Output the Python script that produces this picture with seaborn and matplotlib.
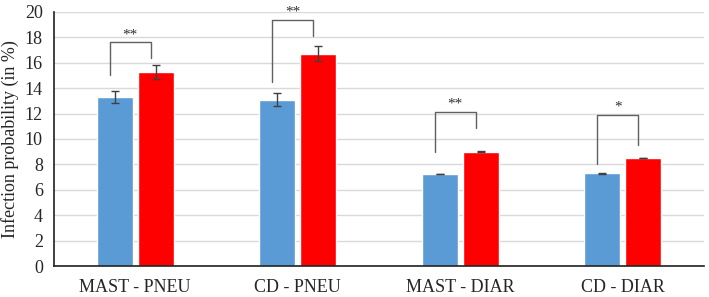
import pandas as pd
import numpy as np
import matplotlib.pyplot as plt
import seaborn as sns

# data
categories = ["MAST - PNEU", "CD - PNEU", "MAST - DIAR", "CD - DIAR"]
groups = ["A", "B"]
values_a = [13.3, 13.1, 7.24, 7.3]
values_b = [15.25, 16.7, 9.0, 8.5]
err_a = [0.5, 0.5, 0.03, 0.03]
err_b = [0.55, 0.6, 0.03, 0.03]

# significance brackets: left leg bottom, top, right leg bottom, label
br_left = [15.0, 14.5, 9.0, 8.0]
br_top = [17.6, 19.4, 12.1, 11.9]
br_right = [16.4, 18.1, 10.9, 9.5]
br_label = ["**", "**", "**", "*"]

df = pd.DataFrame({
    "category": categories * 2,
    "group": [groups[0]] * 4 + [groups[1]] * 4,
    "value": values_a + values_b,
})

sns.set_style("white")
plt.rcParams["font.family"] = ["Liberation Serif", "DejaVu Serif"]

fig = plt.figure(figsize=(7.09, 2.97), dpi=100)
ax = fig.add_axes([0.076, 0.104, 0.917, 0.856])

sns.barplot(data=df, x="category", y="value", hue="group",
            palette=["#5B9BD5", "#FF0000"], saturation=1,
            width=0.505, gap=0.12,
            errorbar=None, legend=False, ax=ax, zorder=2)

errs = [err_a, err_b]
centers = []
for cont, e in zip(ax.containers, errs):
    xs = [p.get_x() + p.get_width() / 2 for p in cont.patches]
    ys = [p.get_height() for p in cont.patches]
    centers.append(xs)
    ax.errorbar(xs, ys, yerr=e, fmt="none", ecolor="#404040",
                elinewidth=1, capsize=3, capthick=1, zorder=3)

# brackets
for i in range(len(categories)):
    xl = centers[0][i] - 0.03
    xr = centers[1][i] - 0.03
    ax.plot([xl, xl, xr, xr], [br_left[i], br_top[i], br_top[i], br_right[i]],
            color="#606060", lw=1, zorder=3)
    ax.text((xl + xr) / 2, br_top[i] + 0.1, br_label[i], ha="center",
            va="bottom", fontsize=11, color="#303030")

ax.set_ylim(0, 20)
ax.set_xlim(-0.5, 3.5)
ax.set_yticks(range(0, 21, 2))
ax.yaxis.grid(True, color="#d9d9d9", lw=1, zorder=0)
ax.set_axisbelow(True)
ax.tick_params(axis="both", length=0, labelsize=13, colors="#262626")
ax.tick_params(axis="x", pad=9)
ax.tick_params(axis="y", pad=8)
ax.set_xlabel("")
ax.set_ylabel("Infection probability (in %)", fontsize=13, color="#262626",
              labelpad=4)
for s in ["top", "right"]:
    ax.spines[s].set_visible(False)
for s in ["left", "bottom"]:
    ax.spines[s].set_color("#202020")
    ax.spines[s].set_linewidth(1.2)

fig.savefig("out.png", dpi=100)
